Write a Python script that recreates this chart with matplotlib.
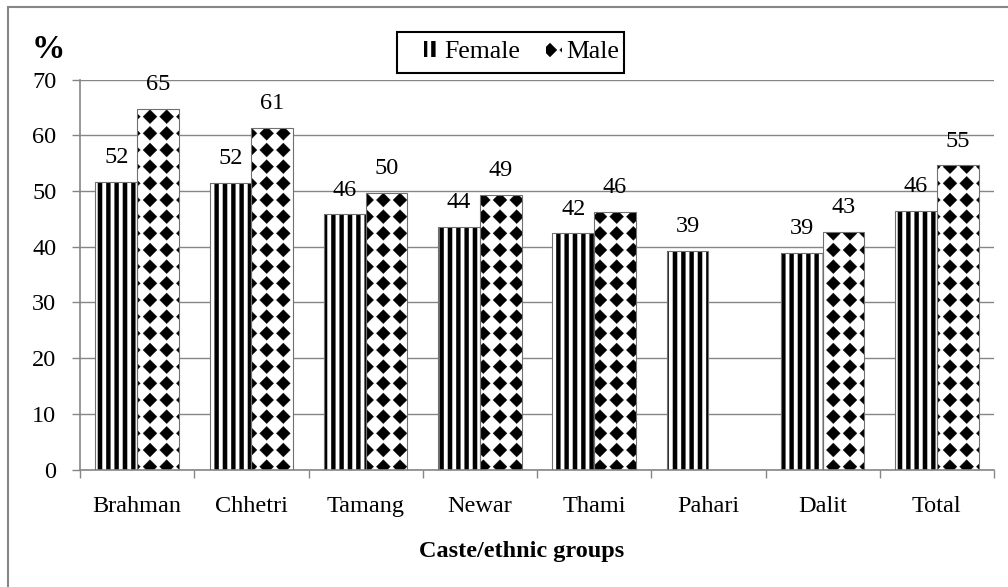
import numpy as np
import matplotlib
matplotlib.use("Agg")
import matplotlib.pyplot as plt
from matplotlib import hatch as mhatch
from matplotlib.path import Path
from matplotlib.patches import Rectangle

groups = ["Brahman", "Chhetri", "Tamang", "Newar", "Thami", "Pahari", "Dalit", "Total"]
female = [51.6, 51.5, 45.8, 43.6, 42.4, 39.2, 38.9, 46.4]
male = [64.7, 61.3, 49.6, 49.3, 46.3, np.nan, 42.7, 54.6]
yticks = [0, 10, 20, 30, 40, 50, 60, 70]

W, H = 1008, 587
GRAY = "#868686"


# Excel-like fill patterns, built as filled shapes in the hatch tile
class Stripes(mhatch.HatchPatternBase):
    def __init__(self, hatch, density):
        self.n = int(hatch.count("|") * density * 2)
        self.num_vertices = (self.n + 1) * 5 if self.n else 0

    def set_vertices_and_codes(self, vertices, codes):
        w = 0.5 / self.n / 2
        verts, cds = [], []
        for i in range(self.n + 1):
            x = i / self.n
            verts += [(x - w, -0.1), (x + w, -0.1), (x + w, 1.1), (x - w, 1.1), (x - w, -0.1)]
            cds += [Path.MOVETO, Path.LINETO, Path.LINETO, Path.LINETO, Path.CLOSEPOLY]
        vertices[:] = verts
        codes[:] = cds


class Diamonds(mhatch.HatchPatternBase):
    def __init__(self, hatch, density):
        self.n = int(hatch.count("o") * density)
        self.num_vertices = (self.n + 1) ** 2 * 5 if self.n else 0

    def set_vertices_and_codes(self, vertices, codes):
        r = 0.42 / self.n
        verts, cds = [], []
        for i in range(self.n + 1):
            for j in range(self.n + 1):
                x, y = i / self.n, j / self.n
                verts += [(x, y - r), (x + r, y), (x, y + r), (x - r, y), (x, y - r)]
                cds += [Path.MOVETO, Path.LINETO, Path.LINETO, Path.LINETO, Path.CLOSEPOLY]
        vertices[:] = verts
        codes[:] = cds


mhatch._hatch_types = [Stripes, Diamonds]
plt.rcParams["hatch.linewidth"] = 0.2
plt.rcParams["font.family"] = ["Liberation Serif", "DejaVu Serif"]

fig = plt.figure(figsize=(W / 100, H / 100), dpi=100)
ax = fig.add_axes([80 / W, 1 - 469.5 / H, 914 / W, 390 / H])

x = np.arange(len(groups))
bw = 0.365
fb = ax.bar(x - bw / 2, female, bw, color="white", edgecolor="black", hatch="|",
            linewidth=0, label="Female", zorder=2)
mb = ax.bar(x + bw / 2, male, bw, color="white", edgecolor="black", hatch="o",
            linewidth=0, label="Male", zorder=2)
ax.bar(x - bw / 2, female, bw, fill=False, edgecolor="#707070", linewidth=0.8, zorder=3)
ax.bar(x + bw / 2, male, bw, fill=False, edgecolor="#707070", linewidth=0.8, zorder=3)

for xs, vals in ((x - bw / 2, female), (x + bw / 2, male)):
    for xi, v in zip(xs, vals):
        if np.isnan(v):
            continue
        ax.annotate(f"{v:.0f}", (xi, v), xytext=(0, 13.5), textcoords="offset points",
                    ha="center", va="baseline", fontsize=17.5)

ax.set_xlim(-0.5, len(groups) - 0.5)
ax.set_ylim(0, 70)
ax.set_yticks(yticks)
ax.yaxis.grid(True, color=GRAY, linewidth=1)
ax.set_axisbelow(True)
ax.set_xticks(x)
ax.set_xticklabels(groups)
ax.set_xticks(np.arange(len(groups) + 1) - 0.5, minor=True)
ax.tick_params(axis="x", which="major", length=0, pad=19, labelsize=17.5)
ax.tick_params(axis="x", which="minor", length=6, width=1, color=GRAY)
ax.tick_params(axis="y", length=6, width=1, color=GRAY, pad=11, labelsize=17.5)
for s in ("top", "right"):
    ax.spines[s].set_visible(False)
for s in ("left", "bottom"):
    ax.spines[s].set_color(GRAY)
    ax.spines[s].set_linewidth(1.2)

fig.text(48 / W, 1 - 50 / H, "%", fontsize=24, fontweight="bold", ha="center", va="center")
fig.text(522 / W, 1 - 552 / H, "Caste/ethnic groups", fontsize=17.5, fontweight="bold",
         ha="center", va="center")

# legend content without frame, box drawn separately (Excel pads it unevenly)
fig.legend(handles=[fb, mb], loc="center left", bbox_to_anchor=(424 / W, 1 - 52 / H),
           ncol=2, fontsize=18.5, frameon=False, handlelength=0.6, handleheight=0.6,
           handletextpad=0.2, columnspacing=1.0, borderpad=0, borderaxespad=0)
fig.add_artist(Rectangle((397 / W, 1 - 73 / H), 227 / W, 41 / H, transform=fig.transFigure,
                         fill=False, edgecolor="black", linewidth=1.5))

fig.add_artist(Rectangle((8 / W, -0.1), 1.2, 1 - 7 / H + 0.1, transform=fig.transFigure,
                         fill=False, edgecolor=GRAY, linewidth=1.5))

fig.savefig("out.png", dpi=100)
